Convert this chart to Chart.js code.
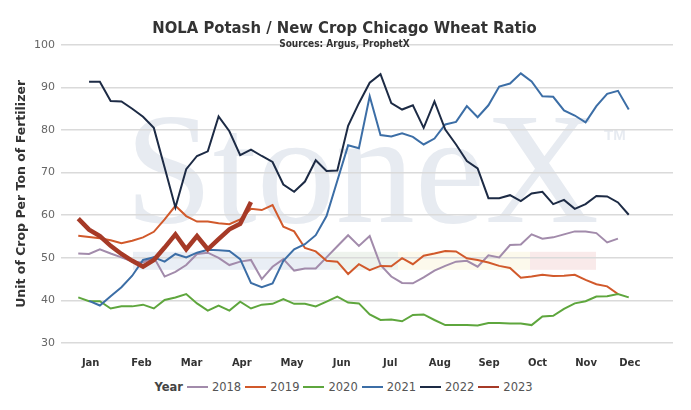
<!DOCTYPE html>
<html>
<head>
<meta charset="utf-8">
<script src="https://cdn.jsdelivr.net/npm/chart.js@4.4.0/dist/chart.umd.min.js"></script>
<style>
  html, body { margin: 0; padding: 0; background: #fff; }
  #box { position: relative; width: 691px; height: 375px; }
  #legend { display: flex; justify-content: center; align-items: center; height: 24px;
            font: 11.5px 'DejaVu Sans', sans-serif; color: #555; }
  #legend .ttl { font-weight: bold; color: #444; margin-right: 4px; }
  #legend .sw { display: inline-block; width: 21px; height: 2px; margin: 0 4px 0 0; }
  #legend .it { display: flex; align-items: center; margin-right: 4px; }
</style>
</head>
<body>
<div id="box"><canvas id="chart"></canvas></div>
<div id="legend"></div>
<script>
// week index of each weekly observation (x axis)
const weeks = [-1, 0, 1, 2, 3, 4, 5, 6, 7, 8, 9, 10, 11, 12, 13, 14, 15, 16, 17, 18, 19, 20,
  21, 22, 23, 24, 25, 26, 27, 28, 29, 30, 31, 32, 33, 34, 35, 36, 37, 38, 39, 40, 41, 42,
  43, 44, 45, 46, 47, 48, 49, 50];

const months = ['Jan', 'Feb', 'Mar', 'Apr', 'May', 'Jun', 'Jul', 'Aug', 'Sep', 'Oct', 'Nov', 'Dec'];
const monthWeek = [0.15, 4.85, 9.5, 14.15, 18.8, 23.4, 27.9, 32.5, 37.05, 41.55, 46.05, 50.1];

const y2018 = [51.0, 50.9, 52.0, 51.0, 50.1, 49.1, 48.9, 50.1, 45.6, 46.7, 48.3, 50.9, 51.2, 50.0,
  48.3, 49.1, 49.5, 45.0, 47.9, 49.7, 47.0, 47.5, 47.5, 50.1, 52.7, 55.3, 52.8, 55.1, 48.3, 45.6,
  44.1, 44.0, 45.4, 47.0, 48.1, 49.1, 49.3, 47.9, 50.6, 50.1, 53.0, 53.1, 55.5, 54.5, 54.8, 55.5,
  56.2, 56.2, 55.8, 53.6, 54.5];
const y2019 = [55.2, 54.9, 54.6, 54.1, 53.4, 54.0, 54.8, 56.1, 59.0, 62.2, 59.8, 58.5, 58.5, 58.1,
  57.9, 59.0, 61.5, 61.2, 62.4, 57.3, 56.2, 52.3, 51.5, 49.3, 49.1, 46.2, 48.5, 47.1, 48.1, 48.0,
  49.9, 48.5, 50.5, 51.0, 51.6, 51.5, 49.9, 49.5, 48.9, 48.1, 47.6, 45.3, 45.6, 46.0, 45.7, 45.8,
  46.0, 44.8, 43.8, 43.3, 41.5];
const y2020 = [40.7, 39.8, 39.8, 38.1, 38.6, 38.6, 39.0, 38.1, 40.1, 40.7, 41.5, 39.3, 37.6, 38.8,
  37.6, 39.7, 38.1, 39.0, 39.2, 40.3, 39.2, 39.2, 38.6, 39.7, 40.9, 39.5, 39.3, 36.7, 35.4, 35.5,
  35.1, 36.6, 36.7, 35.4, 34.2, 34.2, 34.2, 34.1, 34.7, 34.7, 34.6, 34.6, 34.2, 36.2, 36.4, 38.0,
  39.3, 39.8, 40.9, 41.0, 41.5, 40.7];
const y2021 = [null, 39.9, 38.8, 41.0, 43.1, 45.8, 49.5, 50.1, 49.1, 50.9, 50.1, 51.2, 51.9, 51.8,
  51.6, 49.7, 44.1, 43.1, 44.0, 49.3, 52.0, 53.2, 55.3, 59.8, 68.1, 76.4, 75.7, 87.9, 78.8, 78.5,
  79.2, 78.4, 76.6, 78.0, 81.3, 81.9, 85.6, 83.0, 85.8, 90.2, 90.9, 93.3, 91.4, 87.9, 87.8, 84.6,
  83.4, 81.8, 85.6, 88.5, 89.2, 84.8];
const y2022 = [null, 91.3, 91.3, 86.8, 86.7, 85.0, 83.1, 80.5, 71.2, 61.8, 70.8, 73.9, 75.0, 83.2,
  79.7, 74.1, 75.4, 73.9, 72.5, 67.2, 65.5, 67.9, 72.9, 70.4, 70.5, 81.0, 86.3, 91.1, 93.1, 86.3,
  84.8, 85.8, 80.5, 86.7, 80.1, 76.6, 72.7, 71.0, 64.0, 64.0, 64.7, 63.3, 65.1, 65.5, 62.6, 63.6,
  61.5, 62.6, 64.5, 64.4, 63.0, 60.1];
const y2023 = [59.2, 56.6, 55.1, 52.8, 50.9, 49.3, 47.9, 49.5, 52.4, 55.5, 52.0, 55.1, 52.0, 54.4,
  56.7, 58.0, 63.1];

const family = "'DejaVu Sans', sans-serif";
const condensed = "'DejaVu Sans Condensed', 'DejaVu Sans', sans-serif";

const series = [
  { label: '2018', values: y2018, color: '#a28bab', width: 2, order: 5 },
  { label: '2019', values: y2019, color: '#d1592b', width: 2, order: 4 },
  { label: '2020', values: y2020, color: '#5ea63d', width: 2, order: 3 },
  { label: '2021', values: y2021, color: '#3c6ea6', width: 2, order: 2 },
  { label: '2022', values: y2022, color: '#1d2b45', width: 2, order: 1 },
  { label: '2023', values: y2023, color: '#a63a27', width: 4.5, order: 0 }
];

// faint StoneX watermark behind the grid
const watermark = {
  id: 'watermark',
  beforeDraw(chart) {
    const { ctx, chartArea: a } = chart;
    ctx.save();
    const bands = [[72, 269, '#e9eef5'], [269, 337, '#eef3ed'], [337, 469, '#fcf9ec'], [469, 535, '#f9eaea']];
    bands.forEach(([x0, x1, c]) => {
      ctx.fillStyle = c;
      ctx.fillRect(a.left + x0, a.top + 207, x1 - x0, 18);
    });
    ctx.fillStyle = '#e7ebf1';
    ctx.font = "158px 'Liberation Serif', serif";
    ctx.textBaseline = 'alphabetic';
    ctx.fillText('StoneX', a.left + 64, a.top + 177);
    ctx.font = "bold 15px 'Liberation Sans', sans-serif";
    ctx.fillText('TM', a.left + 543, a.top + 95);
    ctx.restore();
  }
};

new Chart(document.getElementById('chart'), {
  type: 'line',
  data: {
    datasets: series.map(s => ({
      label: s.label,
      data: s.values.map((v, k) => ({ x: weeks[k], y: v })),
      borderColor: s.color,
      backgroundColor: s.color,
      borderWidth: s.width,
      pointRadius: 0,
      tension: 0,
      order: s.order
    }))
  },
  options: {
    responsive: true,
    maintainAspectRatio: false,
    animation: false,
    layout: { padding: { top: 4, right: 18, left: 16, bottom: 0 } },
    plugins: {
      legend: { display: false },
      tooltip: { enabled: false },
      title: {
        display: true,
        text: 'NOLA Potash / New Crop Chicago Wheat Ratio',
        color: '#333',
        font: { family: condensed, size: 16.5, weight: 'bold' },
        padding: { top: 15, bottom: 0 }
      },
      subtitle: {
        display: true,
        text: 'Sources: Argus, ProphetX',
        color: '#333',
        font: { family: condensed, size: 10, weight: 'bold' },
        padding: { top: 0, bottom: -6 }
      }
    },
    scales: {
      x: {
        type: 'linear',
        min: -2.6,
        max: 54.1,
        grid: { display: false },
        border: { display: false },
        afterBuildTicks: s => { s.ticks = monthWeek.map(v => ({ value: v })); },
        afterFit: s => { s.height = 32; },
        ticks: {
          autoSkip: false,
          maxRotation: 0,
          padding: 6,
          color: '#333',
          font: { family, size: 10, weight: 'bold' },
          callback: (v, i) => months[i]
        }
      },
      y: {
        min: 30,
        max: 100,
        afterFit: s => { s.width = 45; },
        grid: { color: '#dadada', lineWidth: 1.5, drawTicks: false },
        border: { display: false },
        ticks: { stepSize: 10, padding: 6, color: '#666', font: { family, size: 11 } },
        title: {
          display: true,
          text: 'Unit of Crop Per Ton of Fertilizer',
          color: '#333',
          font: { family, size: 12.5, weight: 'bold' },
          padding: { top: -2, bottom: 0 }
        }
      }
    }
  },
  plugins: [watermark]
});

const legend = document.getElementById('legend');
legend.innerHTML = '<span class="ttl">Year</span>' + series.map(s =>
  `<span class="it"><span class="sw" style="background:${s.color}"></span>${s.label}</span>`).join('');
</script>
</body>
</html>
